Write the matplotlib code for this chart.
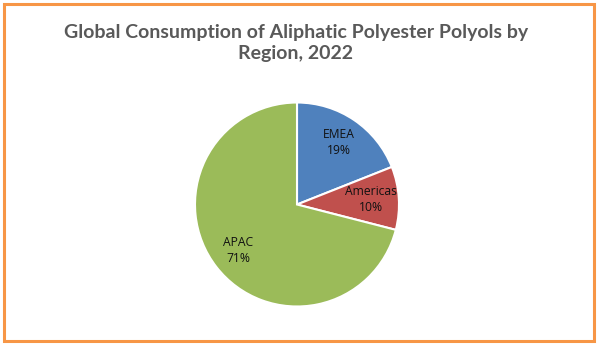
import matplotlib.pyplot as plt
from matplotlib.patches import Rectangle

# Regional shares of aliphatic polyester polyol consumption
regions = ["EMEA", "Americas", "APAC"]
shares = [19, 10, 71]
colors = ["#4F81BD", "#C0504D", "#9BBB59"]

TITLE = "Global Consumption of Aliphatic Polyester Polyols by\nRegion, 2022"

W, H = 600, 345
fig = plt.figure(figsize=(W / 100, H / 100), dpi=100)
fig.patch.set_facecolor("white")

# orange frame around the chart area
fig.patches.append(Rectangle((4 / W, 4 / H), 590 / W, 337 / H, transform=fig.transFigure,
                             fill=False, edgecolor="#F79646", linewidth=2.2))

fig.text(296 / W, 1 - 43 / H, TITLE, ha="center", va="center", fontsize=14,
         fontweight="bold", color="#595959", family="Lato", linespacing=1.35)

cx, cy, r = 297, 204.5, 102
ax = fig.add_axes([(cx - r) / W, (H - cy - r) / H, 2 * r / W, 2 * r / H])


def fmt(pct, it=iter(regions)):
    return f"{next(it)}\n{pct:.0f}%"


wedges, texts, autotexts = ax.pie(
    shares, colors=colors, startangle=90, counterclock=False,
    autopct=fmt, pctdistance=0.73, radius=1.0,
    wedgeprops=dict(edgecolor="white", linewidth=1.5),
    textprops=dict(fontsize=8.7, color="#111111", family="Open Sans", linespacing=1.3),
)
ax.set_xlim(-1, 1)
ax.set_ylim(-1, 1)
ax.set_aspect("equal")
ax.axis("off")

fig.savefig("out.png", dpi=100)
